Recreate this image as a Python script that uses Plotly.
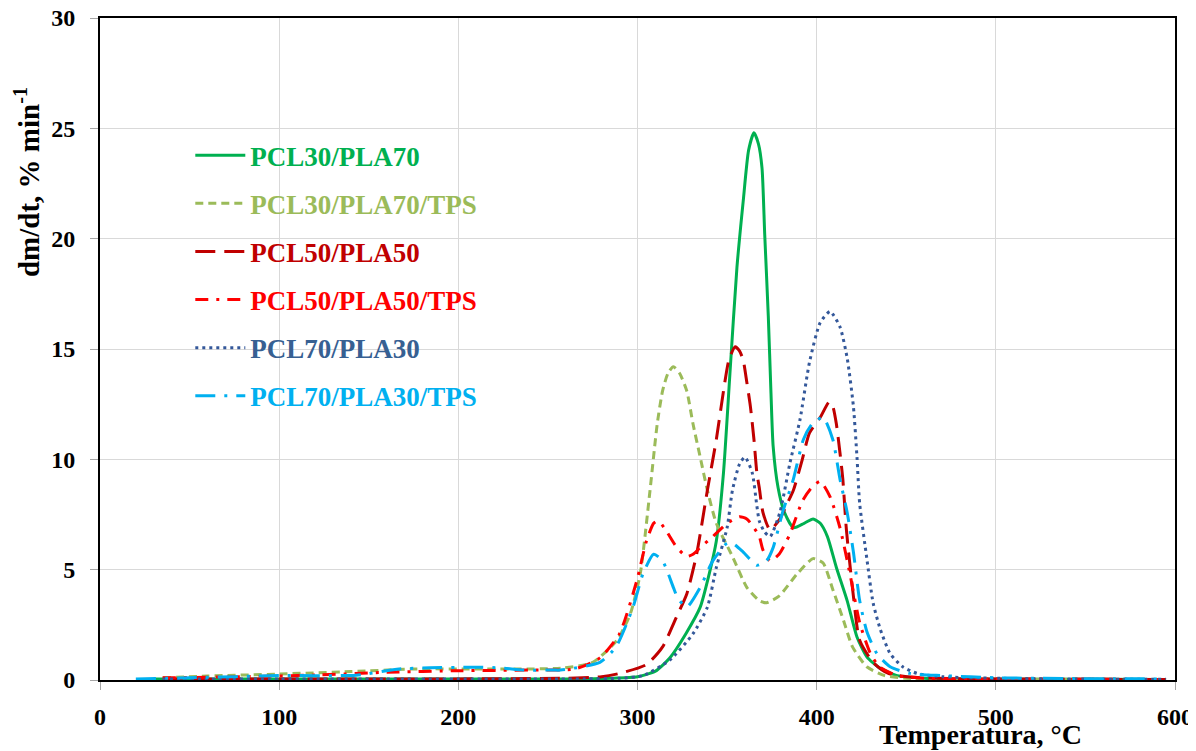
import plotly.graph_objects as go

# ---------------- data ----------------
T_pcl30_pla70 = [30,100,200,260,285,300,310,318,327,335,340,344,348,351.6,355.5,359,362,365,367.5,369.5,
                 371,373,374.5,375.7,378.5,382,387,393,398,402,406,411,417,422.5,428,435,445,460,480,520,560,595]
v_pcl30_pla70 = [0.05,0.05,0.05,0.05,0.08,0.15,0.4,1.0,2.1,3.3,4.8,6.3,9.4,13.9,18.7,21.7,24.0,24.8,24.3,23.2,
                 20.2,16.5,13.0,10.6,8.7,7.6,6.9,7.1,7.3,7.1,6.5,5.1,3.6,1.95,1.05,0.55,0.2,0.08,0.05,0.03,0.03,0.02]

T_pcl30_pla70_tps = [35,60,100,140,175,210,258,275,288.5,296,301.5,307,311,314,317,320,323.5,327.5,331,335,
                     339,344,353,361,368,372,379,389,398,403.6,409,415,420,428,438,450,470,500,550,595]
v_pcl30_pla70_tps = [0.1,0.18,0.27,0.38,0.5,0.5,0.54,0.8,1.8,3.0,4.8,8.6,11.6,13.1,13.9,14.2,13.9,13.1,11.6,10.1,
                     8.6,7.1,5.6,4.2,3.6,3.5,3.8,4.8,5.5,5.3,4.1,2.7,1.5,0.6,0.2,0.08,0.05,0.04,0.03,0.02]

T_pcl50_pla50 = [35,100,200,260,280,290,305,314,322,327.5,333,339,344,348,351,354.5,357,359,361,363,
                 365,366.6,368,370,374,379.5,383,387,392,396,402,407,409,411,413,414.6,416.6,420.5,424,431.5,
                 440,455,480,520,560,595]
v_pcl50_pla50 = [0.05,0.05,0.05,0.08,0.15,0.3,0.7,1.5,2.9,3.9,5.7,8.6,10.9,13.1,14.5,15.1,14.9,14.5,13.5,12.4,
                 10.9,9.4,8.7,7.6,6.8,7.3,7.9,8.6,10.0,11.2,11.9,12.6,12.4,11.6,10.3,9.1,6.8,3.8,1.8,0.8,
                 0.3,0.12,0.06,0.04,0.03,0.02]

T_pcl50_pla50_tps = [35,80,123,160,200,240,265,279,290,299.6,305,309,311,313,316.5,322,327.5,331,335,342,
                     350,357,361,365,368,370,374,379,385,392,397,402,407.5,413,418.6,424,430,435,445,460,
                     490,530,570,595]
v_pcl50_pla50_tps = [0.1,0.15,0.23,0.35,0.42,0.45,0.5,1.0,2.1,4.5,6.3,7.1,7.2,7.1,6.7,6.0,5.6,5.7,6.0,6.5,
                     7.1,7.4,7.3,6.9,6.5,5.9,5.4,5.7,6.6,8.1,8.7,9.0,8.3,6.9,4.8,2.6,1.2,0.6,0.2,0.08,
                     0.05,0.04,0.03,0.02]

T_pcl70_pla30 = [35,100,200,270,290,303,318,331,339,344,350,353,357,360,364,366.6,368,371,374,379.5,
                 385,390.7,396,402,407.5,413,417,420.5,422.5,424,428,431.5,435.5,441,448,456,470,500,550,595]
v_pcl70_pla30 = [0.05,0.05,0.05,0.05,0.08,0.2,0.9,2.1,3.3,5.1,6.9,8.6,9.8,10.1,9.4,7.9,7.2,6.7,6.5,7.6,
                 9.8,11.8,14.4,16.2,16.7,16.0,14.6,12.4,10.1,8.0,5.5,3.5,2.3,1.2,0.6,0.3,0.15,0.08,0.04,0.03]

T_pcl70_pla30_tps = [20,50,100,143,167,184,208,223,238,253,257,279,288,297.5,303,309,314,320,322.6,327.5,
                     335,342,350,353,359,366.6,372,375.7,381,387,392.6,397.4,403.6,409,413,417,420.5,424,428,433.6,
                     441,452,470,500,550,595]
v_pcl70_pla30_tps = [0.05,0.1,0.2,0.22,0.5,0.55,0.58,0.55,0.45,0.45,0.45,0.8,1.5,3.3,4.8,5.7,5.4,4.2,3.7,3.3,
                     4.2,5.4,6.2,6.2,5.8,5.2,5.4,6.0,7.6,9.1,10.9,11.6,11.9,10.9,9.1,7.6,5.8,3.6,2.2,1.2,
                     0.6,0.3,0.2,0.1,0.06,0.05]

series_names = ["PCL30/PLA70", "PCL30/PLA70/TPS", "PCL50/PLA50",
                "PCL50/PLA50/TPS", "PCL70/PLA30", "PCL70/PLA30/TPS"]
series_T = [T_pcl30_pla70, T_pcl30_pla70_tps, T_pcl50_pla50,
            T_pcl50_pla50_tps, T_pcl70_pla30, T_pcl70_pla30_tps]
series_v = [v_pcl30_pla70, v_pcl30_pla70_tps, v_pcl50_pla50,
            v_pcl50_pla50_tps, v_pcl70_pla30, v_pcl70_pla30_tps]

x_ticks = [0, 100, 200, 300, 400, 500, 600]
y_ticks = [0, 5, 10, 15, 20, 25, 30]

# ---------------- styles ----------------
colors = ["#00B050", "#9BBB59", "#C00000", "#FF0000", "#34589A", "#00B0F0"]
text_colors = ["#00B050", "#9BBB59", "#C00000", "#FF0000", "#376092", "#00B0F0"]
dashes = ["solid", "8px,5px", "20px,9px", "13px,8px,3px,8px", "3px,4px", "20px,9px,3px,9px"]

FONT = "Liberation Serif"

fig = go.Figure()
for i in range(len(series_names)):
    fig.add_trace(go.Scatter(
        x=series_T[i], y=series_v[i], mode="lines",
        name=f"<b><span style='color:{text_colors[i]}'>{series_names[i]}</span></b>",
        legendgroup=f"g{i}",
        line=dict(color=colors[i], width=3, dash=dashes[i], shape="spline", smoothing=0.6),
    ))

axis_common = dict(
    showline=True, linecolor="black", linewidth=2, mirror=True,
    showgrid=True, gridcolor="#D9D9D9", gridwidth=1,
    ticks="outside", ticklen=8, tickcolor="#A6A6A6", tickwidth=1,
    tickfont=dict(family=FONT, size=24, color="black", weight="bold"),
    zeroline=False, automargin=False, ticklabeloverflow="allow",
)

fig.update_xaxes(range=[0, 600], tickvals=x_ticks, ticklabelstandoff=6, **axis_common)
fig.update_yaxes(range=[0, 30], tickvals=y_ticks, ticklabelstandoff=10, **axis_common)

# the page body adds an 8px offset, so the figure is sized to fit the window
fig.update_layout(
    width=1188, height=743,
    margin=dict(l=92, r=21, t=10, b=71, autoexpand=False),
    plot_bgcolor="white", paper_bgcolor="white",
    font=dict(family=FONT),
    showlegend=True,
    legend=dict(
        x=0.084, y=0.829, xanchor="left", yanchor="top",
        bgcolor="rgba(0,0,0,0)", borderwidth=0,
        font=dict(family=FONT, size=27),
        tracegroupgap=10, itemwidth=50,
    ),
    annotations=[
        dict(text="dm/dt, % min<sup>-1</sup>", xref="paper", yref="paper",
             x=-0.068, y=0.752, xanchor="center", yanchor="middle", textangle=-90,
             showarrow=False, font=dict(family=FONT, size=29, color="black", weight="bold")),
        dict(text="Temperatura, °C", xref="paper", yref="paper",
             x=0.819, y=-0.082, xanchor="center", yanchor="middle",
             showarrow=False, font=dict(family=FONT, size=28, color="black", weight="bold")),
    ],
)

fig.write_html("out.html")
